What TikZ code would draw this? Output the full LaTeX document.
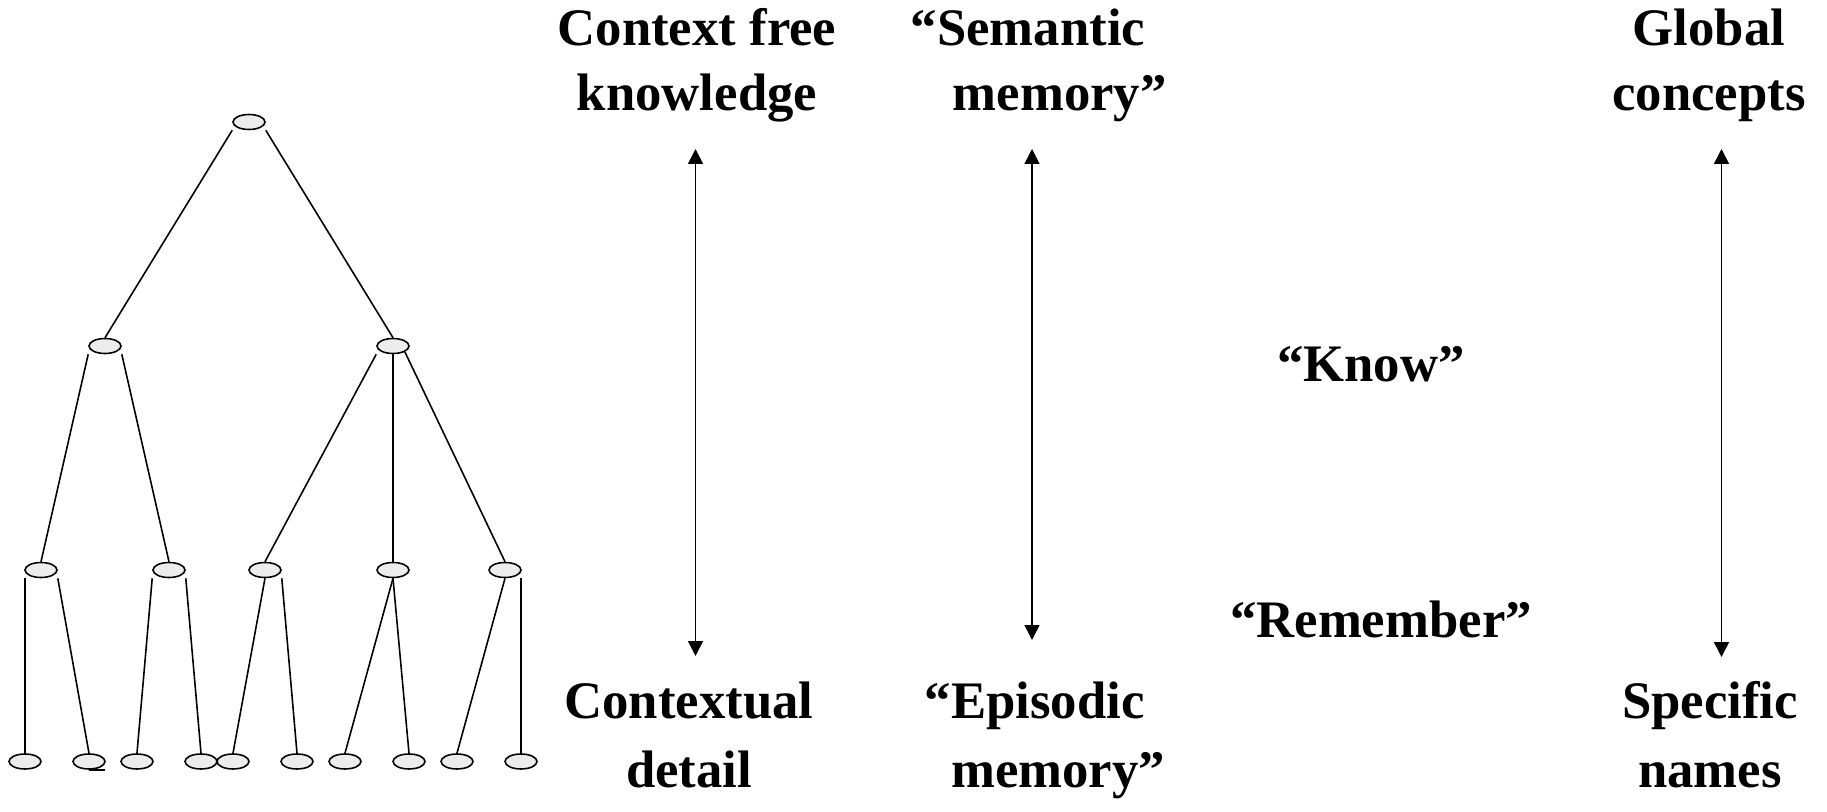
\documentclass[tikz,border=0pt]{standalone}
\usepackage{fontspec}
\setmainfont{Liberation Serif}
\usetikzlibrary{shapes.geometric,arrows.meta}

\begin{document}
\begin{tikzpicture}[line width=0.9pt,
    unit/.style={ellipse,draw,fill=gray!15,minimum width=0.64cm,minimum height=0.30cm,inner sep=0pt},
    lbl/.style={font=\fontsize{30}{37}\selectfont\bfseries,inner sep=0pt},
    twoway/.style={{Triangle[width=8.5pt,length=8.5pt]}-{Triangle[width=8.5pt,length=8.5pt]}}]
\useasboundingbox (0,0) rectangle (36.54,16.22);
% tree
\node[unit] (root) at (4.98,13.78) {};
\node[unit] (a) at (2.10,9.30) {};
\node[unit] (b) at (7.86,9.30) {};
\node[unit] (a1) at (0.82,4.82) {};
\node[unit] (a2) at (3.38,4.82) {};
\node[unit] (b1) at (5.30,4.82) {};
\node[unit] (b2) at (7.86,4.82) {};
\node[unit] (b3) at (10.10,4.82) {};
\node[unit] (a11) at (0.50,0.99) {};
\node[unit] (a12) at (1.78,0.99) {};
\node[unit] (a21) at (2.74,0.99) {};
\node[unit] (a22) at (4.02,0.99) {};
\node[unit] (b11) at (4.66,0.99) {};
\node[unit] (b12) at (5.94,0.99) {};
\node[unit] (b21) at (6.90,0.99) {};
\node[unit] (b22) at (8.18,0.99) {};
\node[unit] (b31) at (9.14,0.99) {};
\node[unit] (b32) at (10.42,0.99) {};
\draw (root.west |- root.south) -- (a.north);
\draw (root.east |- root.south) -- (b.north);
\draw (a.west |- a.south) -- (a1.north);
\draw (a.east |- a.south) -- (a2.north);
\draw (b.west |- b.south) -- (b1.north);
\draw (b.south) -- (b2.north);
\draw (b.south east) -- (b3.north);
\draw (a11.north) -- (a11.north |- a1.south);
\draw (a1.east |- a1.south) -- (a12.north);
\draw (a2.west |- a2.south) -- (a21.north);
\draw (a2.east |- a2.south) -- (a22.north);
\draw (b1.south) -- (b11.north);
\draw (b1.east |- b1.south) -- (b12.north);
\draw (b2.south) -- (b21.north);
\draw (b2.south) -- (b22.north);
\draw (b3.south) -- (b31.north);
\draw (b32.north) -- (b32.north |- b3.south);
\draw (a12.south) -- ++(0.32,0);
% labels (base = last line)
\node[lbl,align=center,anchor=base] (ctxfree) at (13.94,14.01) {Context free\\knowledge};
\node[lbl,align=left,anchor=base west] (semantic) at (18.20,14.01) {“Semantic\\\hspace*{0.8em}memory”};
\node[lbl,align=center,anchor=base] (global) at (34.18,14.01) {Global\\concepts};
\node[lbl,anchor=base] (know) at (27.42,8.58) {“Know”};
\node[lbl,anchor=base] (remember) at (27.62,3.46) {“Remember”};
\node[lbl,align=center,anchor=base] (contextual) at (13.78,0.47) {Contextual\\[2pt]detail};
\node[lbl,align=left,anchor=base west] (episodic) at (18.48,0.47) {“Episodic\\[2pt]\hspace*{0.5em}memory”};
\node[lbl,align=center,anchor=base] (specific) at (34.20,0.47) {Specific\\[2pt]names};
% arrows
\coordinate (ctxup) at (13.91,13.24);
\coordinate (ctxdown) at (13.91,3.10);
\coordinate (semup) at (20.64,13.24);
\coordinate (semdown) at (20.64,3.42);
\coordinate (globup) at (34.43,13.24);
\coordinate (globdown) at (34.43,3.08);
\draw[twoway] (ctxup) -- (ctxdown);
\draw[twoway] (semup) -- (semdown);
\draw[twoway] (globup) -- (globdown);
\end{tikzpicture}
\end{document}
